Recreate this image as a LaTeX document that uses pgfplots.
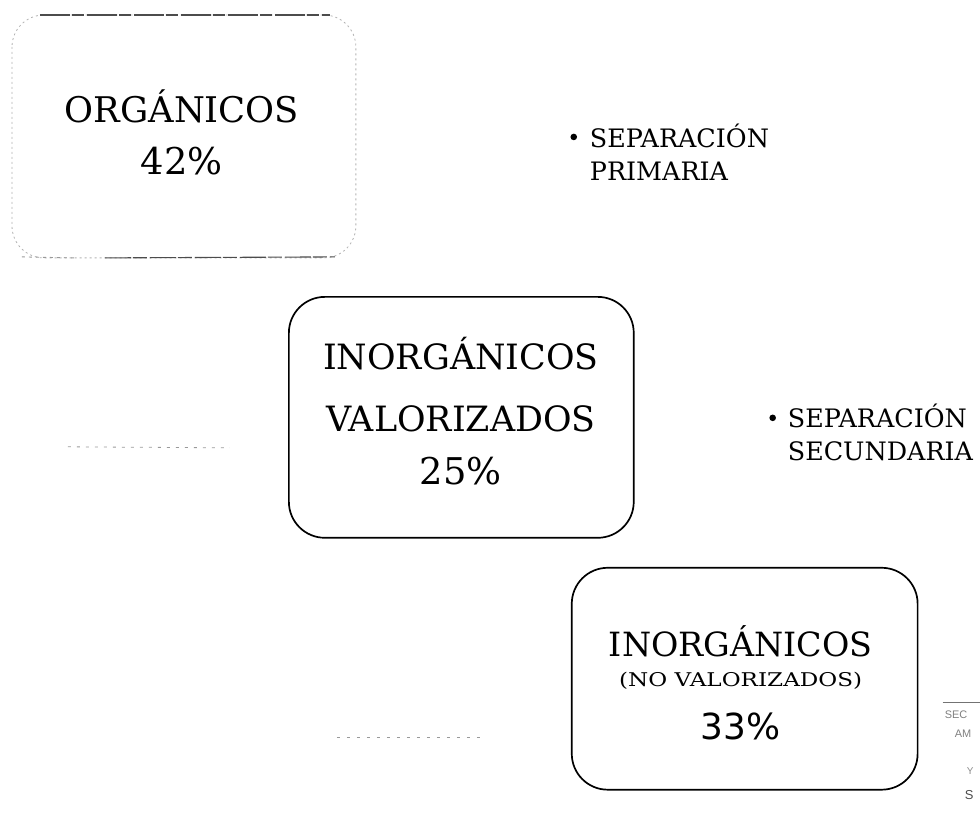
\documentclass[border=0pt]{standalone}
\usepackage{pgfplots}
\pgfplotsset{compat=1.18}
\usepackage{fontspec}
\setmainfont{DejaVu Serif}
\newfontfamily\numfont{DejaVu Sans}
\newfontfamily\stampfont{Liberation Sans}
\begin{document}
\begin{tikzpicture}
\begin{axis}[
  scale only axis, width=980bp, height=814bp,
  xmin=0, xmax=980, ymin=0, ymax=814, y dir=reverse,
  axis lines=none, clip=false,
  ticks=none,
]
\path (axis cs:0,0) rectangle (axis cs:980,814);
% box 1 (faint scanned outline)
\draw[black!30, line width=0.8bp, dash pattern=on 2bp off 3bp, rounded corners=32bp]
  (axis cs:12,15) rectangle (axis cs:356,258);
\draw[black!70, line width=1.1bp, dash pattern=on 30bp off 2bp on 12bp off 3bp] (axis cs:40,15) -- (axis cs:330,15);
\draw[black!70, line width=1.1bp, dash pattern=on 26bp off 2bp on 14bp off 3bp] (axis cs:105,258) -- (axis cs:335,257);
\draw[black!40, line width=0.9bp, dash pattern=on 3bp off 4bp] (axis cs:22,257) -- (axis cs:75,258);
% box 2
\draw[black, line width=1.7bp, rounded corners=36bp]
  (axis cs:289,297) rectangle (axis cs:634,538);
% box 3
\draw[black, line width=1.7bp, rounded corners=36bp]
  (axis cs:572,568) rectangle (axis cs:918,790);

% scan specks
\draw[black!40, line width=0.8bp, dash pattern=on 3bp off 6bp] (axis cs:68,447) -- (axis cs:230,448);
\draw[black!40, line width=0.8bp, dash pattern=on 3bp off 7bp] (axis cs:337,738) -- (axis cs:482,738);

\node[anchor=base, font=\fontsize{35.5}{40}\selectfont] at (axis cs:182,123) {ORGÁNICOS};
\node[anchor=base, font=\fontsize{37}{40}\selectfont] at (axis cs:182,175) {42\%};

\node[anchor=base, font=\fontsize{35}{40}\selectfont] at (axis cs:461,370) {INORGÁNICOS};
\node[anchor=base, font=\fontsize{35}{40}\selectfont] at (axis cs:461,432) {VALORIZADOS};
\node[anchor=base, font=\fontsize{37}{40}\selectfont] at (axis cs:461,485) {25\%};

\node[anchor=base, font=\fontsize{33.5}{40}\selectfont] at (axis cs:741,657) {INORGÁNICOS};
\node[anchor=base, inner sep=0pt] at (axis cs:741,687) {\scalebox{1.22}[1]{\fontsize{19}{22}\selectfont (NO VALORIZADOS)}};
\node[anchor=base, font=\numfont\fontsize{36}{40}\selectfont] at (axis cs:741,740) {33\%};

\node[anchor=base west, inner sep=0pt, font=\fontsize{25.5}{30}\selectfont] at (axis cs:590,148) {SEPARACIÓN};
\node[anchor=base west, inner sep=0pt, font=\fontsize{25.5}{30}\selectfont] at (axis cs:590,181) {PRIMARIA};
\fill (axis cs:574,137) circle[radius=3.3bp];

\node[anchor=base west, inner sep=0pt, font=\fontsize{25.5}{30}\selectfont] at (axis cs:788,428) {SEPARACIÓN};
\node[anchor=base west, inner sep=0pt, font=\fontsize{25.5}{30}\selectfont] at (axis cs:788,461) {SECUNDARIA};
\fill (axis cs:773,418) circle[radius=3.3bp];

% stamp fragments (cut off at the right edge)
\draw[black!55, line width=0.8bp] (axis cs:943,703) -- (axis cs:980,703);
\node[anchor=base west, black!50, font=\stampfont\fontsize{11}{12}\selectfont, inner sep=0pt] at (axis cs:945,719) {SEC};
\node[anchor=base west, black!50, font=\stampfont\fontsize{11}{12}\selectfont, inner sep=0pt] at (axis cs:955,738) {AM};
\node[anchor=base west, black!45, font=\stampfont\fontsize{10}{12}\selectfont, inner sep=0pt] at (axis cs:967,775) {Y};
\node[anchor=base west, black!70, font=\stampfont\fontsize{13}{14}\selectfont, inner sep=0pt] at (axis cs:965,800) {S};
\end{axis}
\end{tikzpicture}
\end{document}
